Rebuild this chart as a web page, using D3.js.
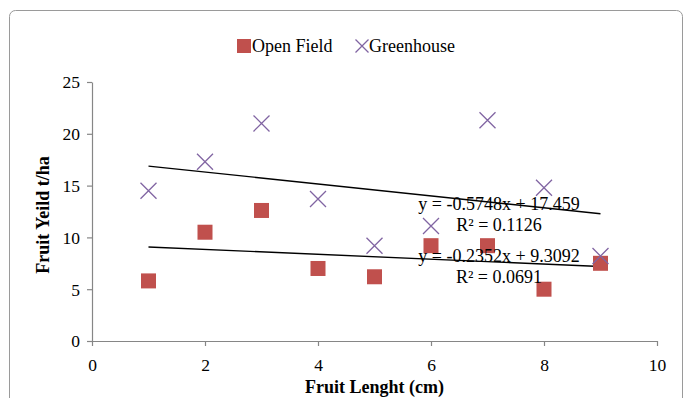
<!DOCTYPE html>
<html>
<head>
<meta charset="utf-8">
<script src="https://cdn.jsdelivr.net/npm/d3@7"></script>
<style>
    body { margin: 0; background: #fff; }
    svg { display: block; font-family: 'Liberation Serif', 'Times New Roman', serif; }
</style>
</head>
<body>
<div id="chart_container"></div>
<script>
// values
var fruitLength = [1, 2, 3, 4, 5, 6, 7, 8, 9];
var openField = [5.8, 10.5, 12.6, 7.0, 6.2, 9.2, 9.2, 5.0, 7.5];
var greenhouse = [14.5, 17.3, 21.0, 13.7, 9.2, 11.1, 21.3, 14.8, 8.2];
var seriesNames = ['Open Field', 'Greenhouse'];
var xTicks = [0, 2, 4, 6, 8, 10];
var yTicks = [0, 5, 10, 15, 20, 25];
// trendline coefficients as printed on the chart
var trendSlope = [-0.2352, -0.5748];
var trendIntercept = [9.3092, 17.459];
var trendLabels = [
    ['y = -0.2352x + 9.3092', 'R² = 0.0691'],
    ['y = -0.5748x + 17.459', 'R² = 0.1126']
];

var colors = ['#C0504D', '#8064A2'];
var axisColor = '#868686';

var svg = d3.select('#chart_container')
    .append('svg')
    .attr('width', 683)
    .attr('height', 398);

// outer frame, runs off the right and bottom edges
svg.append('rect')
    .attr('x', 9.5)
    .attr('y', 10.5)
    .attr('width', 673)
    .attr('height', 420)
    .attr('rx', 6)
    .attr('fill', 'none')
    .attr('stroke', '#9a9a9a')
    .attr('stroke-width', 1);

var plotLeft = 92, plotTop = 82, width = 565, height = 259;

var g = svg.append('g')
    .attr('transform', 'translate(' + plotLeft + ', ' + plotTop + ')');

var xScale = d3.scaleLinear()
    .domain([0, 10])
    .range([0, width]);

var yScale = d3.scaleLinear()
    .domain([0, 25])
    .range([height, 0]);

var xAxis = g.append('g')
    .attr('class', 'x-axis')
    .attr('transform', 'translate(0, ' + height + ')')
    .call(d3.axisBottom(xScale).tickValues(xTicks).tickSize(5).tickPadding(8).tickSizeOuter(0));

var yAxis = g.append('g')
    .attr('class', 'y-axis')
    .call(d3.axisLeft(yScale).tickValues(yTicks).tickSize(5).tickPadding(7).tickSizeOuter(0));

g.selectAll('.x-axis, .y-axis')
    .attr('font-family', null);

g.selectAll('.domain, .tick line')
    .attr('stroke', axisColor)
    .attr('stroke-width', 1.2);

g.selectAll('.tick text')
    .style('font-family', "'Liberation Serif', serif")
    .style('font-size', '17.5px')
    .attr('fill', '#000');

xAxis.selectAll('.tick text').attr('dy', '0.95em');
yAxis.selectAll('.tick text').attr('dy', '0.34em');

// trendlines
for (let i = 0; i < 2; i++) {
    var x1 = d3.min(fruitLength), x2 = d3.max(fruitLength);
    g.append('line')
        .attr('x1', xScale(x1))
        .attr('y1', yScale(trendSlope[i] * x1 + trendIntercept[i]))
        .attr('x2', xScale(x2))
        .attr('y2', yScale(trendSlope[i] * x2 + trendIntercept[i]))
        .attr('stroke', '#000')
        .attr('stroke-width', 1.4);
}

// open field squares
g.selectAll('rect.open')
    .data(openField)
    .enter()
    .append('rect')
    .attr('class', 'open')
    .attr('x', (d, i) => xScale(fruitLength[i]) - 7.5)
    .attr('y', d => yScale(d) - 7.5)
    .attr('width', 15)
    .attr('height', 15)
    .attr('fill', colors[0]);

// greenhouse crosses
var cross = function(sel, s) {
    sel.append('path')
        .attr('d', 'M' + (-s) + ',' + (-s) + 'L' + s + ',' + s + 'M' + (-s) + ',' + s + 'L' + s + ',' + (-s))
        .attr('stroke', colors[1])
        .attr('stroke-width', 1.3)
        .attr('fill', 'none');
};

g.selectAll('g.green')
    .data(greenhouse)
    .enter()
    .append('g')
    .attr('class', 'green')
    .attr('transform', (d, i) => 'translate(' + xScale(fruitLength[i]) + ', ' + yScale(d) + ')')
    .call(cross, 8);

// trendline labels
var labelY = [[262, 283], [210, 231]];
for (let i = 0; i < 2; i++) {
    for (let j = 0; j < 2; j++) {
        svg.append('text')
            .attr('x', 499)
            .attr('y', labelY[i][j])
            .attr('font-size', '18px')
            .attr('text-anchor', 'middle')
            .text(trendLabels[i][j]);
    }
}

// legend
var legend = svg.append('g');
legend.append('rect')
    .attr('x', 237)
    .attr('y', 39)
    .attr('width', 14)
    .attr('height', 14)
    .attr('fill', colors[0]);
legend.append('text')
    .attr('x', 252)
    .attr('y', 52)
    .attr('font-size', '18px')
    .text(seriesNames[0]);
legend.append('g')
    .attr('transform', 'translate(362, 46)')
    .call(cross, 6.5);
legend.append('text')
    .attr('x', 369)
    .attr('y', 52)
    .attr('font-size', '18px')
    .text(seriesNames[1]);

// axis titles
svg.append('text')
    .attr('x', plotLeft + width / 2)
    .attr('y', 393)
    .attr('font-size', '18px')
    .attr('font-weight', 'bold')
    .attr('text-anchor', 'middle')
    .text('Fruit Lenght (cm)');

svg.append('text')
    .attr('transform', 'translate(49, 215) rotate(-90)')
    .attr('font-size', '18px')
    .attr('font-weight', 'bold')
    .attr('text-anchor', 'middle')
    .text('Fruit Yeild t/ha');
</script>
</body>
</html>
